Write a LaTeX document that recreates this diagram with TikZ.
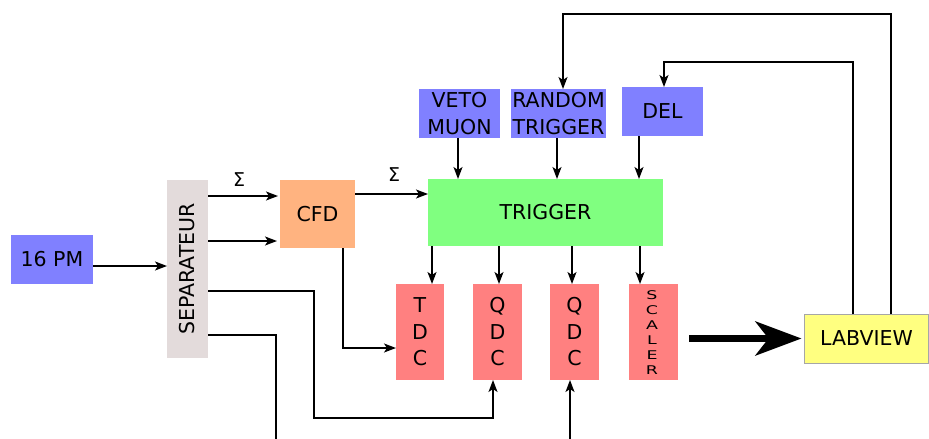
\documentclass[tikz,border=0pt]{standalone}
\usepackage{fontspec}
\setmainfont{DejaVu Sans}
\usetikzlibrary{arrows.meta}
\definecolor{cblue}{HTML}{8080FF}
\definecolor{cgreen}{HTML}{80FF80}
\definecolor{corange}{HTML}{FFB380}
\definecolor{cred}{HTML}{FF8080}
\definecolor{cyellow}{HTML}{FFFF80}
\definecolor{csep}{HTML}{E3DBDB}
\begin{document}
\begin{tikzpicture}[x=1pt,y=-1pt,
  box/.style={inner sep=0pt,outer sep=0pt,font=\fontsize{20.5}{26.5}\selectfont,align=center},
  arr/.style={line width=1.5pt,-{Stealth[length=12pt,width=9pt,inset=3pt]}},
  ln/.style={line width=1.5pt},
  sig/.style={inner sep=0pt,font=\fontsize{19}{20}\selectfont}]
\useasboundingbox (0,0) rectangle (929,439);
% boxes
\node[box,fill=cblue,minimum width=82pt,minimum height=49pt] (pm) at (52,259.5) {16 PM};
\node[box,fill=csep,minimum width=41pt,minimum height=178pt] (sep) at (187.5,269) {};
\node[box,rotate=90] at (sep.center) {SEPARATEUR};
\node[box,fill=corange,minimum width=75pt,minimum height=68pt] (cfd) at (317.5,214) {CFD};
\node[box,fill=cgreen,minimum width=235pt,minimum height=67pt] (trig) at (545.5,212.5) {TRIGGER};
\node[box,fill=cblue,minimum width=81pt,minimum height=49pt] (veto) at (459.5,113.5) {VETO\\MUON};
\node[box,fill=cblue,minimum width=95pt,minimum height=49pt] (rand) at (558.5,113.5) {RANDOM\\TRIGGER};
\node[box,fill=cblue,minimum width=81pt,minimum height=49pt] (del) at (662.5,111.5) {DEL};
\node[box,fill=cred,minimum width=48pt,minimum height=96pt] (tdc) at (420,332) {T\\D\\C};
\node[box,fill=cred,minimum width=49pt,minimum height=96pt] (qdca) at (497.5,332) {Q\\D\\C};
\node[box,fill=cred,minimum width=49pt,minimum height=96pt] (qdcb) at (574.5,332) {Q\\D\\C};
\node[box,fill=cred,minimum width=49pt,minimum height=96pt] (scal) at (653.5,332) {};
\node[inner sep=0pt,align=center,font=\fontsize{12}{15}\selectfont] at (652,332.5)
  {\scalebox{1.45}[1]{S}\\\scalebox{1.45}[1]{C}\\\scalebox{1.45}[1]{A}\\\scalebox{1.45}[1]{L}\\\scalebox{1.45}[1]{E}\\\scalebox{1.45}[1]{R}};
\node[box,fill=cyellow,draw=black!35,line width=1pt,minimum width=124pt,minimum height=49pt] (lab) at (866.5,338.5) {LABVIEW};
% helper coordinates
\coordinate (r1) at (0,196);
\coordinate (r2) at (0,241);
\coordinate (r3) at (0,194);
\coordinate (cfdx) at (343,348);
\coordinate (s3) at (314,291);
\coordinate (s3b) at (314,418);
\coordinate (q1x) at (493,0);
\coordinate (s4) at (276,335);
\coordinate (s4end) at (276,439);
\coordinate (q2start) at (570,439);
\coordinate (c1) at (432,0);
\coordinate (c2) at (499,0);
\coordinate (c3) at (572,0);
\coordinate (c4) at (640,0);
\coordinate (cv) at (458,0);
\coordinate (cr) at (557,0);
\coordinate (cd) at (639,0);
\coordinate (top1) at (891,14);
\coordinate (top1l) at (563,14);
\coordinate (top2) at (853,62);
\coordinate (top2l) at (664,62);
% connectors
\draw[arr] ([yshift=-6.5pt]pm.east) -- ([yshift=-6.5pt]pm.east -| sep.west);
\draw[arr] (sep.east |- r1) -- ([xshift=-2pt]cfd.west |- r1);
\draw[arr] (sep.east |- r2) -- ([xshift=-3pt]cfd.west |- r2);
\node[sig] at (239,180) {Σ};
\draw[arr] (cfd.east |- r3) -- (trig.west |- r3);
\node[sig] at (394,175) {Σ};
\draw[arr] (cfd.south -| cfdx) -- (cfdx) -- (cfdx -| tdc.west);
\draw[arr] (sep.east |- s3) -- (s3) -- (s3b) -- (s3b -| q1x) -- (qdca.south -| q1x);
\draw[ln] (sep.east |- s4) -- (s4) -- (s4end);
\draw[arr] (q2start) -- (q2start |- qdcb.south);
\draw[arr] (trig.south -| c1) -- (tdc.north -| c1);
\draw[arr] (trig.south -| c2) -- (qdca.north -| c2);
\draw[arr] (trig.south -| c3) -- (qdcb.north -| c3);
\draw[arr] (trig.south -| c4) -- (scal.north -| c4);
\draw[arr] (veto.south -| cv) -- (trig.north -| cv);
\draw[arr] (rand.south -| cr) -- (trig.north -| cr);
\draw[arr] (del.south -| cd) -- (trig.north -| cd);
\draw[arr] (lab.north -| top1) -- (top1) -- (top1l) -- (rand.north -| top1l);
\draw[arr] (lab.north -| top2) -- (top2) -- (top2l) -- (del.north -| top2l);
\draw[line width=7pt,-{Stealth[length=46pt,width=34pt,inset=13pt]},shorten <=11pt,shorten >=3pt] (scal.east |- lab.west) -- (lab.west);
\end{tikzpicture}
\end{document}
